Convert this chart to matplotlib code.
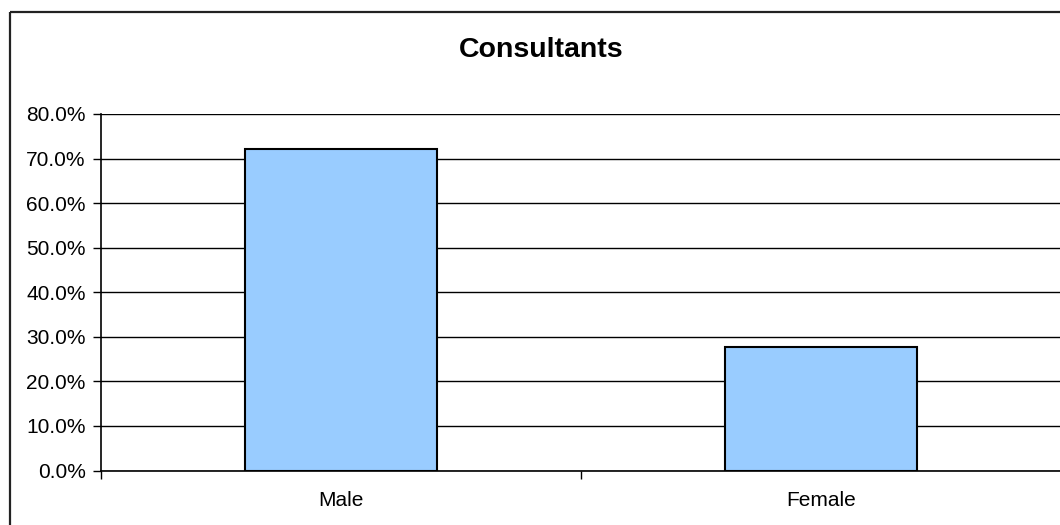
import matplotlib
matplotlib.use("Agg")
import matplotlib.pyplot as plt
from matplotlib.lines import Line2D
from matplotlib.ticker import FuncFormatter, FixedLocator

categories = ["Male", "Female"]
shares = [72.2, 27.8]
title = "Consultants"

plt.rcParams["font.family"] = ["Liberation Sans", "DejaVu Sans"]

W, H = 1060, 525
fig = plt.figure(figsize=(W / 100, H / 100), dpi=100)
fig.patch.set_facecolor("white")

# outer chart-area border: only the top and left edges fall inside the image
bx, by = 9.5 / W, 1 - 12 / H
fig.add_artist(Line2D([bx, 1.01], [by, by], transform=fig.transFigure,
                      color="#222222", linewidth=1.6, solid_capstyle="butt"))
fig.add_artist(Line2D([bx, bx], [-0.01, by], transform=fig.transFigure,
                      color="#222222", linewidth=1.6, solid_capstyle="butt"))

left, right = 101 / W, 1061 / W
bottom, top = 1 - 470.5 / H, 1 - 114 / H
ax = fig.add_axes([left, bottom, right - left, top - bottom])

x = list(range(len(categories)))
ax.bar(x, shares, width=0.4, color="#99CCFF", edgecolor="black",
       linewidth=1.5, zorder=3)

ax.set_xlim(-0.5, len(categories) - 0.5)
ax.set_ylim(0, 80)
ax.set_yticks(range(0, 81, 10))
ax.yaxis.set_major_formatter(FuncFormatter(lambda v, p: f"{v:.1f}%"))
ax.yaxis.grid(True, color="black", linewidth=1.0, zorder=1)
ax.set_axisbelow(True)

# category labels centred under bars, ticks between categories
ax.set_xticks(x)
ax.set_xticklabels(categories, fontsize=15)
ax.tick_params(axis="x", which="major", length=0, pad=15)
ax.xaxis.set_minor_locator(FixedLocator([i - 0.5 for i in range(len(categories) + 1)]))
ax.tick_params(axis="x", which="minor", length=6, width=1.0, direction="out")
ax.tick_params(axis="y", length=6, width=1.0, direction="out", labelsize=15, pad=5)

for side in ("top", "right"):
    ax.spines[side].set_visible(False)
ax.spines["left"].set_linewidth(1.2)
ax.spines["bottom"].set_linewidth(1.2)

fig.text(541 / W, 1 - 50 / H, title, ha="center", va="center",
         fontsize=20.5, fontweight="bold")

fig.savefig("out.png", dpi=100, facecolor="white")
